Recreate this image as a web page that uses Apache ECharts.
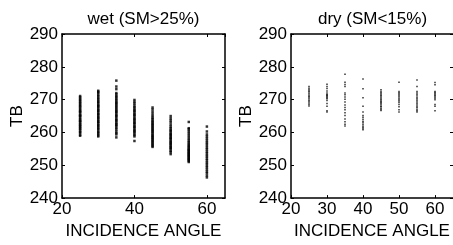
<!DOCTYPE html>
<html><head><meta charset="utf-8">
<script src="https://cdn.jsdelivr.net/npm/echarts@6/dist/echarts.min.js"></script>
<style>html,body{margin:0;padding:0;background:#fff}#c{width:453px;height:245px}</style>
</head><body><div id="c"></div>
<script>
// Incidence angles (deg)
const angles = [25, 30, 35, 40, 45, 50, 55, 60];
// wet (SM>25%) TB values per angle
const wet25 = [259.0,259.3,259.9,260.2,260.6,261.1,261.3,261.8,262.0,262.4,262.7,263.1,263.5,263.6,264.0,264.4,264.9,265.1,265.3,265.8,266.2,266.5,266.7,267.2,267.6,268.0,268.3,268.8,269.1,269.5,269.9,270.3,270.7,271.1];
const wet30 = [258.8,259.1,259.6,260.0,260.3,260.9,261.2,261.6,262.1,262.3,262.8,263.2,263.4,263.9,264.3,264.6,265.0,265.5,265.7,266.2,266.6,266.9,267.3,267.8,268.1,268.4,268.9,269.3,269.7,270.1,270.6,271.0,271.5,272.0,272.4,272.7];
const wet35 = [258.5,259.4,259.8,260.3,260.9,261.4,261.9,262.3,262.6,263.0,263.5,263.8,264.2,264.7,265.1,265.4,265.9,266.3,266.6,267.0,267.4,267.9,268.2,268.7,269.0,269.4,269.8,270.3,270.7,271.1,271.6,272.0,273.2,274.0,275.8];
const wet40 = [257.4,258.8,259.2,259.7,260.1,260.5,260.8,261.3,261.7,262.0,262.5,262.9,263.2,263.7,264.0,264.4,264.9,265.3,265.6,266.1,266.5,266.8,267.3,267.7,268.2,268.8,269.3,269.9];
const wet45 = [255.6,255.9,256.3,256.6,257.0,257.3,257.7,258.0,258.4,258.6,259.0,259.3,259.7,260.1,260.4,260.8,261.1,261.5,261.8,262.2,262.5,262.9,263.3,263.6,264.1,264.5,265.0,265.6,266.3,267.0,267.6];
const wet50 = [253.4,254.0,254.4,254.9,255.3,255.6,256.0,256.4,256.7,257.1,257.4,257.9,258.2,258.5,258.9,259.3,259.6,260.0,260.5,260.8,261.3,261.8,262.4,263.1,263.7,264.3,265.0];
const wet55 = [251.0,251.3,251.6,251.9,252.1,252.4,252.7,252.9,253.2,253.5,253.7,254.0,254.3,254.6,254.8,255.1,255.5,255.8,256.2,256.6,257.0,257.5,258.0,258.6,259.2,259.8,260.4,261.0,261.3,263.2];
const wet60 = [246.3,246.9,247.6,248.1,248.7,249.3,249.8,250.4,250.9,251.5,252.0,252.6,253.1,253.7,254.2,254.8,255.3,255.9,256.5,257.0,257.6,258.2,258.8,259.4,260.3,261.8];
// dry (SM<15%) TB values per angle
const dry25 = [268.1,268.5,269.0,269.4,269.8,270.3,270.7,271.0,271.4,271.9,272.3,272.6,273.0,273.5,274.0];
const dry30 = [266.2,266.6,268.0,268.8,269.7,270.3,270.6,270.9,271.2,271.4,271.6,272.0,272.6,273.4,274.0,274.7];
const dry35 = [262.0,262.5,263.3,264.1,265.2,266.0,266.9,267.6,268.4,269.3,270.1,270.8,271.5,272.0,274.0,274.6,275.3,277.7];
const dry40 = [260.8,261.2,261.6,262.0,262.5,263.0,263.4,264.0,264.6,265.2,266.2,268.0,270.6,273.3,276.3];
const dry45 = [266.7,267.0,267.4,267.8,268.1,268.5,268.9,269.2,269.5,269.9,270.2,270.6,271.0,271.3,271.7,272.1,272.5,273.0];
const dry50 = [266.2,266.9,267.8,268.5,269.1,269.6,270.0,270.4,270.9,271.3,271.7,272.1,272.5,275.3];
const dry55 = [266.2,266.6,267.0,267.5,267.9,268.4,268.8,269.3,269.7,270.2,270.6,271.1,271.6,272.0,272.5,274.0,276.0];
const dry60 = [266.6,268.0,268.5,270.0,270.4,270.8,271.2,271.5,271.9,272.2,272.5,274.5,275.2];
const titles = ['wet (SM>25%)', 'dry (SM<15%)'];
const xName = 'INCIDENCE ANGLE';
const yName = 'TB';
const yTicks = [240, 250, 260, 270, 280, 290];

const wetCols = [wet25, wet30, wet35, wet40, wet45, wet50, wet55, wet60];
const dryCols = [dry25, dry30, dry35, dry40, dry45, dry50, dry55, dry60];
function pts(cols){ const out=[]; cols.forEach((c,i)=>c.forEach(v=>out.push([angles[i], v]))); return out; }

const FF = '"Liberation Sans", Arial, sans-serif';
const grids = [
  {left: 62, top: 34, width: 163, height: 170},
  {left: 291, top: 34, width: 163, height: 170}
];
const xInt = [20, 10];
const xAxis = [], yAxis = [];
const line = {show:true, onZero:false, lineStyle:{color:'#000', width:1.5}};
const tick = {show:true, inside:true, length:3, lineStyle:{color:'#000', width:1}};
grids.forEach((g, i) => {
  xAxis.push({type:'value', gridIndex:i, min:20, max:65, interval:xInt[i], position:'bottom',
    name: xName, nameLocation:'middle', nameGap:18,
    nameTextStyle:{fontFamily:FF, fontSize:17, color:'#000'},
    axisLine: line, axisTick: tick,
    axisLabel:{show:true, fontFamily:FF, fontSize:17, color:'#000', margin:3,
      showMinLabel:true, showMaxLabel:false,
      formatter: v => (v % xInt[i] === 0 && v <= 60) ? String(v) : ''},
    splitLine:{show:false}});
  xAxis.push({type:'value', gridIndex:i, min:20, max:65, interval:xInt[i], position:'top',
    axisLine: line, axisTick: tick, axisLabel:{show:false}, splitLine:{show:false}});
  yAxis.push({type:'value', gridIndex:i, min:240, max:290, interval:10, position:'left',
    name: yName, nameLocation:'middle', nameGap:36, nameRotate:90,
    nameTextStyle:{fontFamily:FF, fontSize:17, color:'#000'},
    axisLine: line, axisTick: tick,
    axisLabel:{show:true, fontFamily:FF, fontSize:17, color:'#000', margin:4,
      showMinLabel:true, showMaxLabel:true,
      formatter: v => yTicks.includes(v) ? String(v) : ''},
    splitLine:{show:false}});
  yAxis.push({type:'value', gridIndex:i, min:240, max:290, interval:10, position:'right',
    axisLine: i === 0 ? line : {show:false}, axisTick: tick, axisLabel:{show:false}, splitLine:{show:false}});
});

const chart = echarts.init(document.getElementById('c'), null, {renderer:'canvas'});
chart.setOption({
  animation:false,
  backgroundColor:'#fff',
  title: [
    {text: titles[0], left: 143.5, top: 11, textAlign:'center', padding:0,
      textStyle:{fontFamily:FF, fontSize:17, fontWeight:'normal', color:'#000'}},
    {text: titles[1], left: 372.5, top: 11, textAlign:'center', padding:0,
      textStyle:{fontFamily:FF, fontSize:17, fontWeight:'normal', color:'#000'}}
  ],
  grid: grids.map(g => Object.assign({containLabel:false}, g)),
  xAxis, yAxis,
  series: [
    {type:'scatter', xAxisIndex:0, yAxisIndex:0, data: pts(wetCols), symbol:'rect', symbolSize:[2.5,2.5],
      itemStyle:{color:'#000'}},
    {type:'scatter', xAxisIndex:2, yAxisIndex:2, data: pts(dryCols), symbol:'rect', symbolSize:[1.5,1.5],
      itemStyle:{color:'#000'}}
  ]
});
</script></body></html>
